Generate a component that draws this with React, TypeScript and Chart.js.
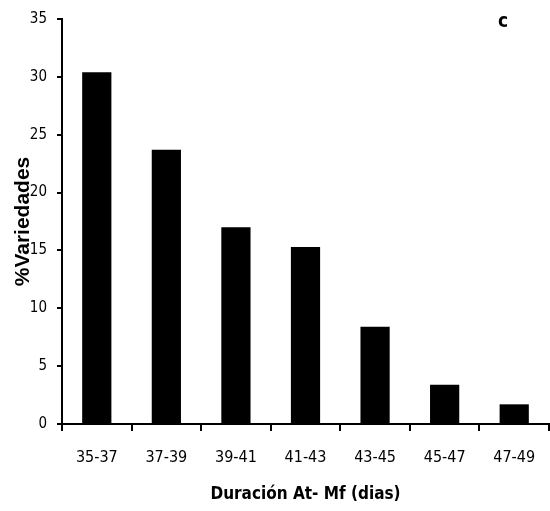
import React, { useEffect, useRef } from "react";
import { Chart, registerables } from "chart.js";

Chart.register(...registerables);

const categories = ["35-37", "37-39", "39-41", "41-43", "43-45", "45-47", "47-49"];
const values = [30.4, 23.7, 17.0, 15.3, 8.4, 3.4, 1.7];
const yTicks = [0, 5, 10, 15, 20, 25, 30, 35];
const yTitle = "%Variedades";
const xTitle = "Duración At- Mf (dias)";
const panelLabel = "c";

const narrow = "'Liberation Sans Narrow', 'DejaVu Sans Condensed', 'Open Sans', sans-serif";

const panelLabelPlugin = {
  id: "panelLabel",
  afterDraw(chart: any) {
    const ctx = chart.ctx;
    ctx.save();
    ctx.fillStyle = "#000";
    ctx.font = `bold 19px ${narrow}`;
    ctx.textAlign = "center";
    ctx.textBaseline = "middle";
    ctx.fillText(panelLabel, 503, 22);
    ctx.restore();
  },
};

export default function App() {
  const ref = useRef<HTMLCanvasElement | null>(null);
  useEffect(() => {
    if (!ref.current) return;
    const chart = new Chart(ref.current, {
      type: "bar",
      data: {
        labels: categories,
        datasets: [
          {
            data: values,
            backgroundColor: "#000",
            borderWidth: 0,
            barPercentage: 0.42,
            categoryPercentage: 1,
          },
        ],
      },
      options: {
        animation: false,
        responsive: false,
        maintainAspectRatio: false,
        layout: { padding: { top: 18, right: 1, left: 0, bottom: 0 } },
        plugins: {
          legend: { display: false },
          tooltip: { enabled: false },
        },
        scales: {
          x: {
            grid: {
              display: true,
              drawOnChartArea: false,
              drawTicks: true,
              tickLength: 7,
              color: "#000",
              lineWidth: 2,
            },
            border: { display: true, color: "#000", width: 2 },
            ticks: {
              color: "#000",
              font: { family: narrow, size: 16 },
              padding: 17,
              maxRotation: 0,
            },
            title: {
              display: true,
              text: xTitle,
              color: "#000",
              font: { family: narrow, size: 17, weight: "bold" },
              padding: { top: 0, bottom: 6 },
            },
            afterFit(scale: any) {
              scale.height = 87;
              scale.paddingLeft = 0;
              scale.paddingRight = 0;
            },
          },
          y: {
            min: 0,
            max: 35,
            afterBuildTicks(scale: any) {
              scale.ticks = yTicks.map((v) => ({ value: v }));
            },
            grid: {
              display: true,
              drawOnChartArea: false,
              drawTicks: true,
              tickLength: 5,
              color: "#000",
              lineWidth: 2,
            },
            border: { display: true, color: "#000", width: 2 },
            ticks: {
              color: "#000",
              font: { family: narrow, size: 15 },
              padding: 10,
            },
            title: {
              display: true,
              text: yTitle,
              color: "#000",
              font: { family: "'Liberation Sans', Arial, sans-serif", size: 21, weight: "bold" },
              padding: { top: 11, bottom: 0 },
            },
            afterFit(scale: any) {
              scale.width = 62;
            },
          },
        },
      },
      plugins: [panelLabelPlugin],
    });
    return () => chart.destroy();
  }, []);
  return (
    <div style={{ position: "fixed", left: 0, top: 0, width: 550, height: 511, background: "#fff" }}>
      <canvas ref={ref} width={550} height={511} style={{ width: 550, height: 511, display: "block" }} />
    </div>
  );
}
